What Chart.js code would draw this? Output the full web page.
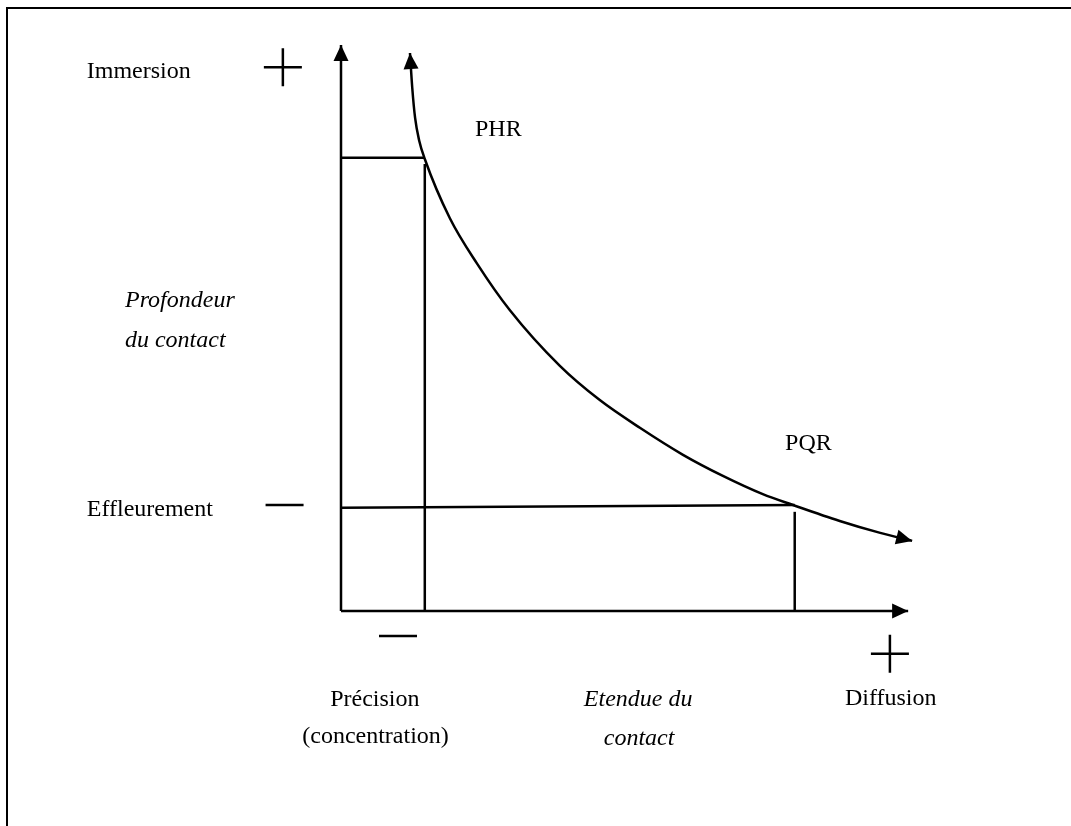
<!DOCTYPE html>
<html>
<head>
<meta charset="utf-8">
<script src="https://cdn.jsdelivr.net/npm/chart.js@4/dist/chart.umd.min.js"></script>
<style>
  body { margin: 0; background: #fff; }
  #wrap { width: 1071px; height: 826px; }
</style>
</head>
<body>
<div id="wrap"><canvas id="contactChart" width="1071" height="826"></canvas></div>
<script>
// axes run from 0 to 10 on both sides (Etendue / Profondeur du contact)
const axisMax = 10;

const curveEtendue = [1.21, 1.25, 1.30, 1.37, 1.47, 1.91, 2.39, 2.96, 3.84, 4.54, 5.25, 6.0, 6.7, 7.4, 7.93, 8.75, 9.46, 10.02];
const curveProfondeur = [9.79, 9.18, 8.65, 8.26, 7.93, 6.89, 6.09, 5.28, 4.30, 3.70, 3.21, 2.74, 2.37, 2.05, 1.86, 1.58, 1.37, 1.23];

// the two projections (PHR and PQR)
const phrX = [0, 1.47];
const phrY = [7.95, 7.95];
const phrDropX = [1.47, 1.47];
const phrDropY = [0, 7.84];
const pqrX = [0, 7.96];
const pqrY = [1.81, 1.86];
const pqrDropX = [7.96, 7.96];
const pqrDropY = [0, 1.74];

// axis arrows
const xAxisEnd = 9.95;
const yAxisEnd = 9.93;

// labels: text, x, y (data units, left / baseline)
const labelText = ["Immersion", "PHR", "Profondeur", "du contact", "PQR", "Effleurement",
  "Précision", "(concentration)", "Etendue du", "contact", "Diffusion"];
const labelX = [-4.46, 2.35, -3.79, -3.79, 7.79, -4.46, -0.19, -0.68, 4.26, 4.61, 8.84];
const labelY = [9.35, 8.33, 5.33, 4.63, 2.82, 1.66, -1.67, -2.32, -1.67, -2.35, -1.65];
const labelItalic = [false, false, true, true, false, false, false, false, true, true, false];

// plus / minus signs
const plusX = [-1.02, 9.63];
const plusY = [9.54, -0.75];
const minusX = [-0.99, 1.0];
const minusY = [1.86, -0.44];

function pts(xs, ys) {
    return xs.map((x, i) => ({ x: x, y: ys[i] }));
}

function line(xs, ys, extra) {
    return Object.assign({
        data: pts(xs, ys),
        showLine: true,
        pointRadius: 0,
        borderColor: "#000",
        borderWidth: 2.5,
        tension: 0,
        capBezierPoints: false,
        clip: false,
    }, extra || {});
}

function arrowHead(ctx, tip, from, len, half) {
    const ang = Math.atan2(tip.y - from.y, tip.x - from.x);
    ctx.save();
    ctx.translate(tip.x, tip.y);
    ctx.rotate(ang);
    ctx.beginPath();
    ctx.moveTo(0, 0);
    ctx.lineTo(-len, -half);
    ctx.lineTo(-len, half);
    ctx.closePath();
    ctx.fillStyle = "#000";
    ctx.fill();
    ctx.restore();
}

const decorPlugin = {
    id: "decor",
    beforeDraw(chart) {
        const ctx = chart.ctx;
        ctx.save();
        ctx.fillStyle = "#fff";
        ctx.fillRect(0, 0, chart.width, chart.height);
        // frame, cut by the right and bottom edges
        ctx.strokeStyle = "#000";
        ctx.lineWidth = 2;
        ctx.strokeRect(7, 8, 2000, 2000);
        ctx.restore();
    },
    afterDatasetsDraw(chart) {
        const ctx = chart.ctx;
        const sx = chart.scales.x, sy = chart.scales.y;
        const px = (x) => sx.getPixelForValue(x);
        const py = (y) => sy.getPixelForValue(y);

        // arrows at line ends
        chart.data.datasets.forEach((ds, i) => {
            const p = chart.getDatasetMeta(i).data;
            if (ds.arrowEnd) arrowHead(ctx, p[p.length - 1], p[p.length - 2], 16, 7.5);
            if (ds.arrowStart) arrowHead(ctx, p[0], p[1], 16, 7.5);
        });

        ctx.save();
        ctx.strokeStyle = "#000";
        ctx.lineWidth = 2.5;
        const h = 19;
        plusX.forEach((x, i) => {
            const cx = px(x), cy = py(plusY[i]);
            ctx.beginPath();
            ctx.moveTo(cx - h, cy); ctx.lineTo(cx + h, cy);
            ctx.moveTo(cx, cy - h); ctx.lineTo(cx, cy + h);
            ctx.stroke();
        });
        minusX.forEach((x, i) => {
            const cx = px(x), cy = py(minusY[i]);
            ctx.beginPath();
            ctx.moveTo(cx - h, cy); ctx.lineTo(cx + h, cy);
            ctx.stroke();
        });

        ctx.fillStyle = "#000";
        ctx.textAlign = "left";
        ctx.textBaseline = "alphabetic";
        labelText.forEach((t, i) => {
            ctx.font = (labelItalic[i] ? "italic " : "") + "24px 'Liberation Serif', 'Times New Roman', serif";
            ctx.fillText(t, px(labelX[i]), py(labelY[i]));
        });
        ctx.restore();
    },
};

new Chart(document.getElementById("contactChart"), {
    type: "scatter",
    data: {
        datasets: [
            line([0, 0], [0, yAxisEnd], { arrowEnd: true }),
            line([0, xAxisEnd], [0, 0], { arrowEnd: true }),
            line(phrX, phrY),
            line(phrDropX, phrDropY),
            line(pqrX, pqrY),
            line(pqrDropX, pqrDropY),
            line(curveEtendue, curveProfondeur, { cubicInterpolationMode: "monotone", arrowStart: true, arrowEnd: true }),
        ],
    },
    options: {
        responsive: false,
        animation: false,
        devicePixelRatio: 1,
        layout: {
            padding: { left: 341, right: 160, top: 41, bottom: 215 },
        },
        scales: {
            x: { type: "linear", min: 0, max: axisMax, display: false },
            y: { type: "linear", min: 0, max: axisMax, display: false },
        },
        plugins: {
            legend: { display: false },
            tooltip: { enabled: false },
        },
    },
    plugins: [decorPlugin],
});
</script>
</body>
</html>
